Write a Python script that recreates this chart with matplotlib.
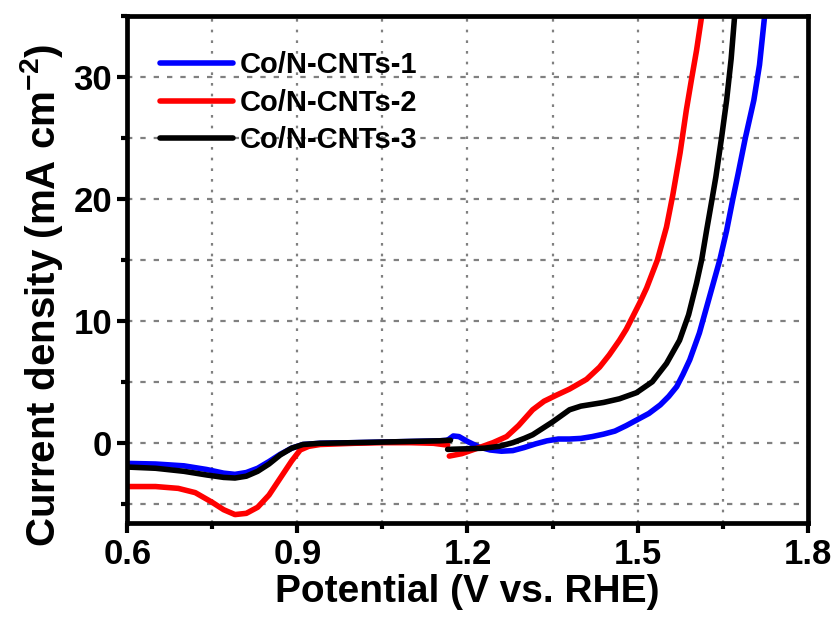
import matplotlib
matplotlib.use("Agg")
import matplotlib.pyplot as plt
from matplotlib.ticker import MultipleLocator

plt.rcParams['font.family'] = ['Liberation Sans', 'DejaVu Sans']
plt.rcParams['font.weight'] = 'bold'
plt.rcParams['mathtext.fontset'] = 'custom'
plt.rcParams['mathtext.rm'] = 'Liberation Sans:bold'
plt.rcParams['mathtext.bf'] = 'Liberation Sans:bold'
plt.rcParams['mathtext.default'] = 'bf'

labels = ["Co/N-CNTs-1", "Co/N-CNTs-2", "Co/N-CNTs-3"]
colors = ["#0000ff", "#ff0000", "#000000"]

# Co/N-CNTs-1 (blue)
v1_orr = [0.60, 0.65, 0.70, 0.74, 0.77, 0.79, 0.81, 0.83, 0.85, 0.87, 0.89, 0.91, 0.94, 1.00, 1.05, 1.10, 1.15, 1.165]
j1_orr = [-1.7, -1.75, -1.9, -2.2, -2.5, -2.6, -2.45, -2.1, -1.55, -0.95, -0.45, -0.15, -0.05, 0.0, 0.05, 0.1, 0.15, 0.2]
v1_oer = [1.165, 1.175, 1.185, 1.20, 1.22, 1.24, 1.26, 1.28, 1.30, 1.32, 1.34, 1.36, 1.38, 1.40, 1.42, 1.44, 1.46,
          1.48, 1.50, 1.52, 1.54, 1.555, 1.569, 1.58, 1.592, 1.609, 1.627, 1.645, 1.657, 1.668, 1.677, 1.69,
          1.705, 1.715, 1.724, 1.728]
j1_oer = [0.2, 0.55, 0.5, 0.1, -0.35, -0.6, -0.7, -0.65, -0.4, -0.1, 0.15, 0.3, 0.3, 0.35, 0.5, 0.7, 0.95,
          1.4, 1.9, 2.4, 3.1, 3.8, 4.6, 5.6, 6.8, 9.0, 12.0, 15.0, 17.4, 20.0, 22.0, 25.0,
          28.1, 31.0, 35.0, 36.0]

# Co/N-CNTs-2 (red)
v2_orr = [0.60, 0.65, 0.69, 0.72, 0.75, 0.77, 0.79, 0.81, 0.83, 0.85, 0.87, 0.89, 0.905, 0.92, 0.94, 1.00, 1.05, 1.10, 1.14, 1.165]
j2_orr = [-3.6, -3.6, -3.75, -4.1, -4.9, -5.5, -5.9, -5.8, -5.3, -4.3, -2.9, -1.5, -0.6, -0.3, -0.15, -0.05, 0.0, 0.0, -0.05, -0.2]
v2_oer = [1.168, 1.19, 1.221, 1.245, 1.269, 1.29, 1.315, 1.335, 1.357, 1.38, 1.41, 1.433, 1.45, 1.468, 1.48, 1.491,
          1.504, 1.516, 1.535, 1.551, 1.562, 1.575, 1.586, 1.595, 1.604, 1.613, 1.618]
j2_oer = [-1.1, -0.9, -0.4, 0.0, 0.5, 1.4, 2.7, 3.4, 3.9, 4.4, 5.2, 6.2, 7.2, 8.4, 9.3, 10.3,
          11.5, 12.7, 15.0, 17.7, 20.3, 23.8, 27.3, 29.8, 32.2, 35.0, 36.0]

# Co/N-CNTs-3 (black)
v3_orr = [0.60, 0.65, 0.70, 0.74, 0.77, 0.79, 0.81, 0.83, 0.85, 0.87, 0.89, 0.91, 0.94, 1.00, 1.05, 1.10, 1.15, 1.17]
j3_orr = [-2.0, -2.1, -2.35, -2.65, -2.85, -2.9, -2.75, -2.35, -1.75, -1.0, -0.45, -0.15, -0.05, 0.0, 0.05, 0.1, 0.15, 0.2]
v3_oer = [1.165, 1.20, 1.23, 1.256, 1.28, 1.30, 1.315, 1.33, 1.35, 1.362, 1.38, 1.40, 1.42, 1.44, 1.468, 1.498,
          1.526, 1.551, 1.574, 1.59, 1.604, 1.613, 1.622, 1.631, 1.638, 1.648, 1.657, 1.665, 1.672]
j3_oer = [-0.55, -0.5, -0.45, -0.3, 0.0, 0.35, 0.65, 1.1, 1.7, 2.1, 2.7, 3.0, 3.15, 3.3, 3.6, 4.1,
          5.0, 6.5, 8.4, 10.5, 13.1, 15.0, 17.5, 19.9, 21.8, 25.0, 28.1, 31.5, 35.5]

x_ticks = [0.6, 0.9, 1.2, 1.5, 1.8]
y_ticks = [0, 10, 20, 30]

fig = plt.figure(figsize=(8.37, 6.22), dpi=100)
ax = fig.add_axes([0.152, 0.159, 0.813, 0.815])

series = [(v1_orr, j1_orr, v1_oer, j1_oer), (v2_orr, j2_orr, v2_oer, j2_oer), (v3_orr, j3_orr, v3_oer, j3_oer)]
handles = []
for (va, ja, vb, jb), c, lab in zip(series, colors, labels):
    h, = ax.plot(va, ja, color=c, lw=4.0, solid_capstyle='round', solid_joinstyle='round', label=lab)
    ax.plot(vb, jb, color=c, lw=4.0, solid_capstyle='round', solid_joinstyle='round')
    handles.append(h)

ax.set_xlim(0.6, 1.8)
ax.set_ylim(-6.6, 35)
ax.set_xticks(x_ticks)
ax.set_xticklabels([f"{t:.1f}" for t in x_ticks])
ax.set_yticks(y_ticks)
ax.xaxis.set_minor_locator(MultipleLocator(0.15))
ax.yaxis.set_minor_locator(MultipleLocator(5))

ax.xaxis.grid(True, which='both', color='#808080', lw=1.6, linestyle=(0, (1.2, 3.6)))
ax.yaxis.grid(True, which='both', color='#808080', lw=1.6, linestyle=(0, (2.4, 3.6)))
ax.set_axisbelow(True)

for s in ax.spines.values():
    s.set_linewidth(3.4)
ax.tick_params(which='major', direction='out', length=7, width=3, labelsize=25, pad=4)
ax.tick_params(which='minor', direction='out', length=4, width=3)
for lab in ax.get_xticklabels() + ax.get_yticklabels():
    lab.set_fontweight('bold')

ax.set_xlabel("Potential (V vs. RHE)", fontsize=28, fontweight='bold', labelpad=2)
ax.set_ylabel("Current density (mA cm$^{-2}$)", fontsize=29, fontweight='bold')
ax.yaxis.set_label_coords(-0.092, 0.45)

leg = ax.legend(handles=handles, loc='upper left', bbox_to_anchor=(0.048, 0.931), frameon=False,
                fontsize=21, handlelength=2.5, handletextpad=0.25, labelspacing=0.33,
                borderaxespad=0, borderpad=0)
for t in leg.get_texts():
    t.set_fontweight('bold')

fig.savefig("out.png", dpi=100)
